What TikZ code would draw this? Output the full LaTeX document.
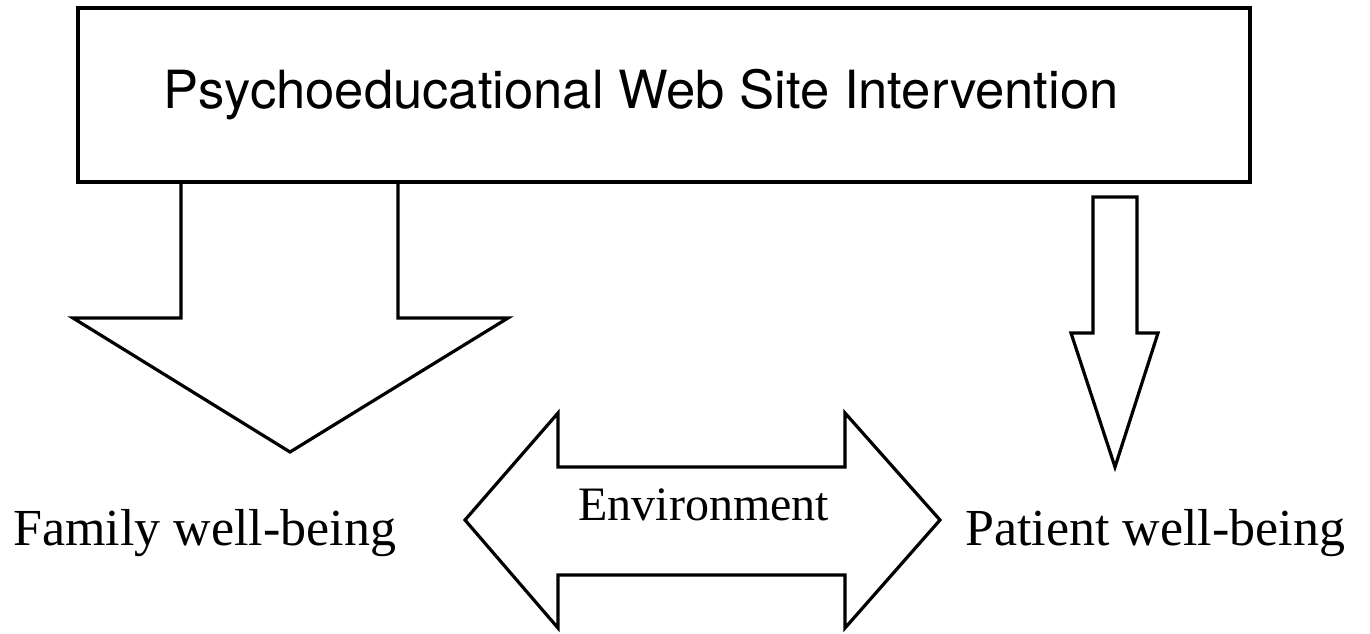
\documentclass[tikz,border=0pt]{standalone}
\usepackage{fontspec}
\setmainfont{Liberation Serif}
\setsansfont{TeX Gyre Heros}

\begin{document}
\begin{tikzpicture}[
      x=0.5pt, y=-0.5pt,
      banner/.style={
        rectangle,
        draw,
        line width=2pt,
        minimum width=586pt,
        minimum height=87pt,
        inner sep=0pt
      },
      fatarrow/.style={draw, line width=1.6pt, line join=miter},
      caption/.style={anchor=base west, inner sep=0pt,
        font=\fontsize{26}{30}\selectfont}
    ]
    \useasboundingbox (0,0) rectangle (1370,633);

    % top box
    \node[banner] (site) at (664,95) {};
    \node[caption, font=\sffamily\fontsize{26.3}{30}\selectfont] (title) at (163,108)
      {Psychoeducational Web Site Intervention};

    % wide arrow to the family
    \coordinate (famL) at (181,182);
    \coordinate (famR) at (398,182);
    \draw[fatarrow] (famL) -- (181,318) -- (73,318) -- (290,452)
      -- (508,318) -- (398,318) -- (famR);

    % narrow arrow to the patient
    \draw[fatarrow] (1093,197) -- (1137,197) -- (1137,333) -- (1158,333)
      -- (1115,467) -- (1071,333) -- (1093,333) -- cycle;

    % two-way arrow
    \draw[fatarrow] (465,520) -- (558,413) -- (558,467) -- (845,467)
      -- (845,413) -- (940,520) -- (845,628) -- (845,575) -- (558,575)
      -- (558,628) -- cycle;

    \node[caption] (family) at (13,545) {Family well-being};
    \node[caption] (patient) at (965,545) {Patient well-being};
    \node[caption, font=\fontsize{24}{28}\selectfont] (env) at (578,520) {Environment};
  \end{tikzpicture}
\end{document}
